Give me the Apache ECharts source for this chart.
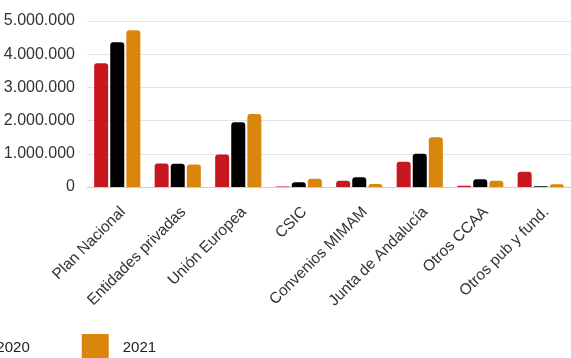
<!DOCTYPE html>
<html>
<head>
<meta charset="utf-8">
<script src="https://cdn.jsdelivr.net/npm/echarts@6/dist/echarts.min.js"></script>
<style>
html,body{margin:0;padding:0;background:#fff;}
#chart{width:571px;height:358px;}
</style>
</head>
<body>
<div id="chart"></div>
<script>
const categories = ["Plan Nacional","Entidades privadas","Unión Europea","CSIC","Convenios MIMAM","Junta de Andalucía","Otros CCAA","Otros pub y fund."];
const seriesNames = ["2019","2020","2021"];
const values2019 = [3730000, 710000, 980000, 15000, 190000, 760000, 40000, 460000];
const values2020 = [4360000, 700000, 1950000, 140000, 290000, 1000000, 230000, 20000];
const values2021 = [4720000, 680000, 2200000, 250000, 90000, 1500000, 190000, 80000];
const yTicks = [0, 1000000, 2000000, 3000000, 4000000, 5000000];
const colors = ["#c8171e", "#000000", "#da860c"];

function fmt(v){ return String(v).replace(/\B(?=(\d{3})+(?!\d))/g, "."); }

const chart = echarts.init(document.getElementById('chart'), null, {renderer:'canvas'});
const dataSets = [values2019, values2020, values2021];
chart.setOption({
  animation:false,
  color: colors,
  grid:{left:87, right:-17, top:21, bottom:171, containLabel:false},
  legend:{
    left:-171, top:334, orient:'horizontal', padding:0,
    itemWidth:27, itemHeight:27, itemGap:52,
    icon:'rect',
    textStyle:{fontSize:15, color:'#222', fontFamily:'Liberation Sans, Arial, sans-serif', padding:[0,0,0,9]},
    data: seriesNames
  },
  xAxis:{
    type:'category', data:categories,
    axisLine:{show:true, lineStyle:{color:'#c8ccd4', width:1}},
    axisTick:{show:false},
    axisLabel:{rotate:45, interval:0, margin:17, verticalAlign:'top', fontSize:15.5, color:'#333', fontFamily:'Liberation Sans, Arial, sans-serif'}
  },
  yAxis:{
    type:'value', min:yTicks[0], max:yTicks[yTicks.length-1], interval:1000000,
    axisLine:{show:false}, axisTick:{show:false},
    splitLine:{lineStyle:{color:'#e4e4e4', width:1}},
    axisLabel:{fontSize:16, color:'#333', margin:12, fontFamily:'Liberation Sans, Arial, sans-serif', formatter:fmt}
  },
  series: seriesNames.map((n,i)=>({
    name:n, type:'bar', data:dataSets[i], barWidth:14, barGap:'15%',
    itemStyle:{color:colors[i], borderRadius:[3,3,0,0]}
  }))
});
</script>
</body>
</html>
